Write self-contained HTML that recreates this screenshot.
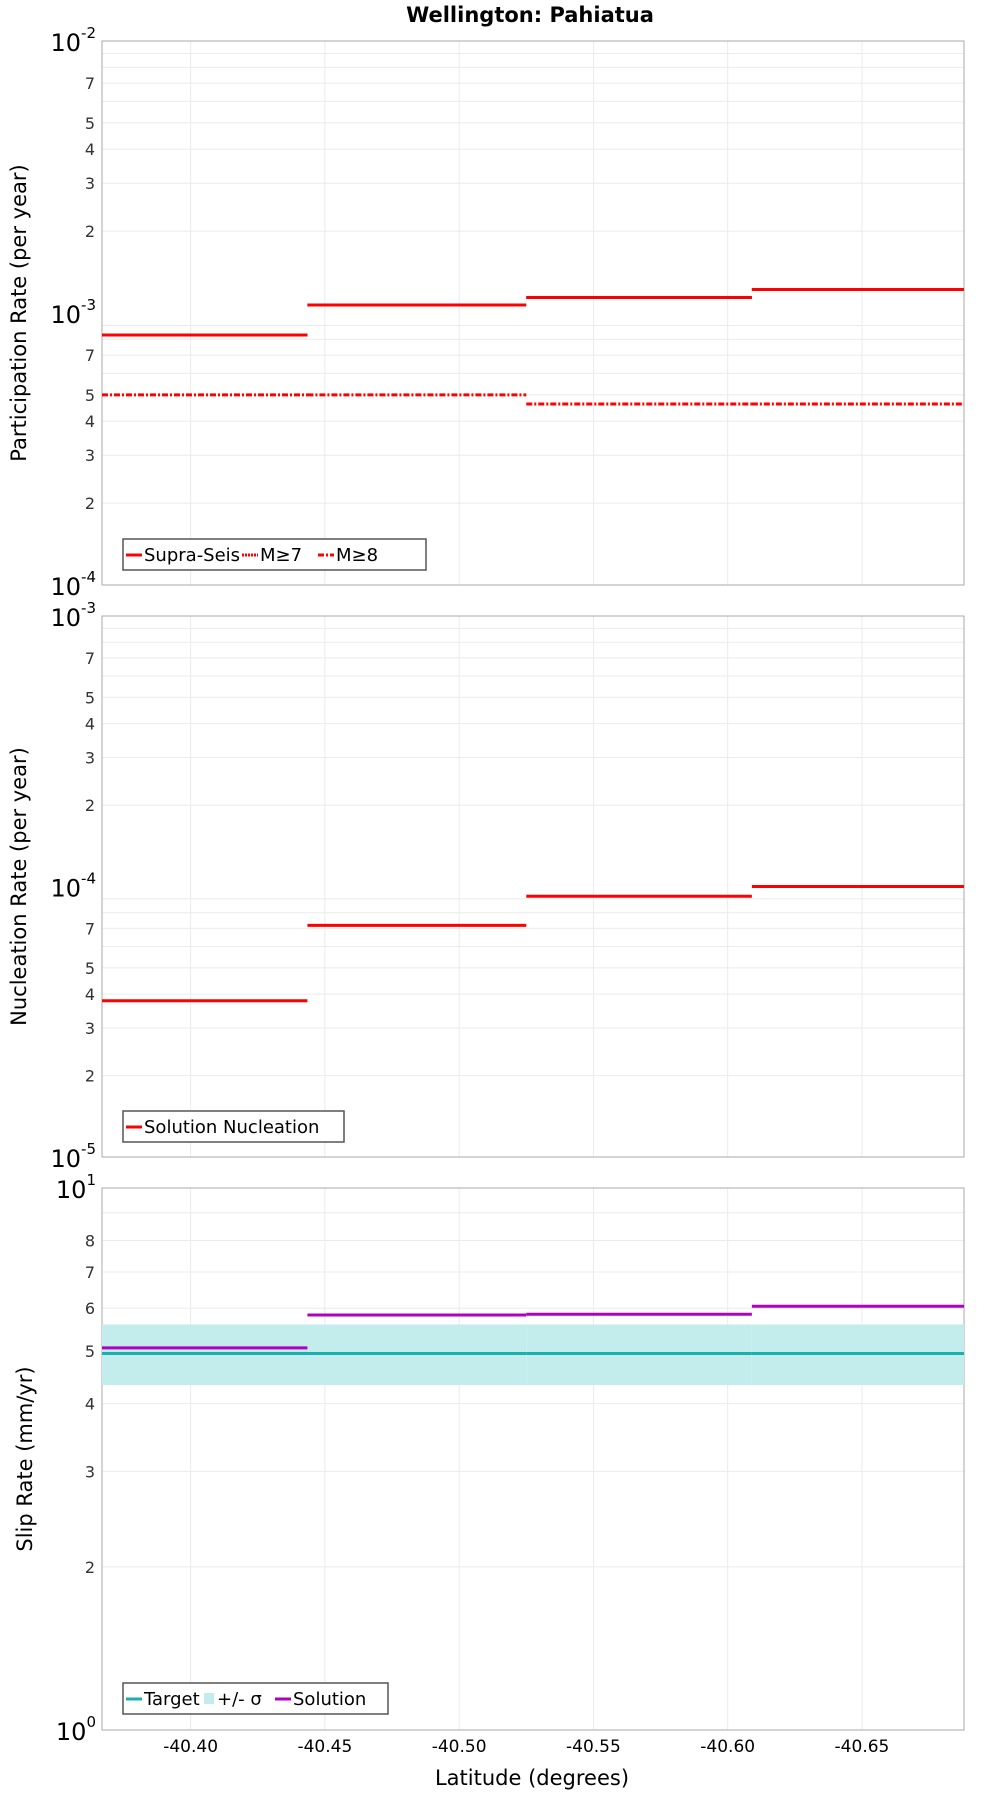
<!DOCTYPE html>
<html><head><meta charset="utf-8"><style>
body{margin:0;background:#fff;}
svg{display:block;font-family:"DejaVu Sans","Liberation Sans",sans-serif;}
</style></head><body>
<svg id="c" width="1000" height="1800" viewBox="0 0 1000 1800" xmlns="http://www.w3.org/2000/svg">
<text x="530" y="22" text-anchor="middle" font-size="21" font-weight="bold">Wellington: Pahiatua</text>
</svg>
<script>
const binEdges=[-40.367,-40.4435,-40.525,-40.609,-40.688];
const xTicks=[-40.40,-40.45,-40.50,-40.55,-40.60,-40.65];
const supraSeis=[8.3e-4,1.07e-3,1.14e-3,1.22e-3];
const m7=[8.3e-4,1.07e-3,1.14e-3,1.22e-3];
const m8=[5.0e-4,5.0e-4,4.63e-4,4.63e-4];
const nucleation=[3.78e-5,7.18e-5,9.2e-5,1.0e-4];
const targetSlip=[4.95,4.95,4.95,4.95];
const sigmaLow=[4.33,4.33,4.33,4.33];
const sigmaHigh=[5.6,5.6,5.6,5.6];
const solutionSlip=[5.07,5.83,5.85,6.05];

const NS='http://www.w3.org/2000/svg';
const svg=document.getElementById('c');
const L=102,R=964;
const xs=v=>L+(v-binEdges[0])/(binEdges[4]-binEdges[0])*(R-L);
function el(t,a,p){const e=document.createElementNS(NS,t);for(const k in a)e.setAttribute(k,a[k]);(p||svg).appendChild(e);return e;}
const panels=[
 {top:41,bot:585,lo:-4,hi:-2,minors:[2,3,4,5,7],title:'Participation Rate (per year)',tx:20,name:'participation'},
 {top:616,bot:1157,lo:-5,hi:-3,minors:[2,3,4,5,7],title:'Nucleation Rate (per year)',tx:20,name:'nucleation'},
 {top:1188,bot:1730,lo:0,hi:1,minors:[2,3,4,5,6,7,8],title:'Slip Rate (mm/yr)',tx:26,name:'slip'}
];
panels.forEach(p=>{
 const g=el('g',{});
 
 
 p.y=v=>p.bot-(Math.log10(v)-p.lo)/(p.hi-p.lo)*(p.bot-p.top);
 for(let d=p.lo;d<p.hi;d++)for(let m=2;m<=9;m++){
  const y=p.y(m*Math.pow(10,d));
  const gl=el('line',{x1:L,x2:R,y1:y,y2:y,stroke:'#ebebeb','stroke-width':1},g);
  
  
 }
 xTicks.forEach(t=>{const gl=el('line',{x1:xs(t),x2:xs(t),y1:p.top,y2:p.bot,stroke:'#ebebeb'},g);
  
  });
 const fr=el('rect',{x:L,y:p.top,width:R-L,height:p.bot-p.top,fill:'none',stroke:'#aaa'},g);
 
 
 for(let d=p.lo;d<=p.hi;d++){
  const y=p.y(Math.pow(10,d));
  const t=el('text',{x:96,y:y+10,'text-anchor':'end','font-size':24},g);
  
  
  t.textContent='10';
  const s=el('tspan',{dy:-13,'font-size':15},t);s.textContent=String(d);
 }
 for(let d=p.lo;d<p.hi;d++)p.minors.forEach(m=>{
  const t=el('text',{x:95,y:p.y(m*Math.pow(10,d))+6,'text-anchor':'end','font-size':16,fill:'#333'},g);
  
  
  t.textContent=m;
 });
 const cy=(p.top+p.bot)/2;
 const at=el('text',{x:p.tx,y:cy,transform:`rotate(-90 ${p.tx} ${cy})`,'text-anchor':'middle','dominant-baseline':'middle','font-size':21},g);
 
 
 at.textContent=p.title;
});
function steps(p,vals,stroke,dash,name,w){
 vals.forEach((v,i)=>{
  const a={x1:xs(binEdges[i]),x2:xs(binEdges[i+1]),y1:p.y(v),y2:p.y(v),stroke:stroke,'stroke-width':w||3};
  if(dash)a['stroke-dasharray']=dash;
  const l=el('line',a);
  
  
 });
}
const P=panels;
steps(P[0],supraSeis,'#f00',null,'supra-seis-step');
steps(P[0],m7,'#f00','2 1','m7-step');
steps(P[0],m8,'#f00','6 2 2 2','m8-step');
steps(P[1],nucleation,'#f00',null,'nucleation-step');
sigmaLow.forEach((v,i)=>{
 const r=el('rect',{x:xs(binEdges[i]),width:xs(binEdges[i+1])-xs(binEdges[i]),y:P[2].y(sigmaHigh[i]),height:P[2].y(v)-P[2].y(sigmaHigh[i]),fill:'#c3ecec'});
 
 
});
steps(P[2],targetSlip,'#19b0b0',null,'target-step');
steps(P[2],solutionSlip,'#b000c0',null,'solution-step');
xTicks.forEach(t=>{
 const tx=el('text',{x:xs(t),y:1752,'text-anchor':'middle','font-size':17});
 
 
 tx.textContent=t.toFixed(2);
});
const xt=el('text',{x:532,y:1785,'text-anchor':'middle','font-size':21});


xt.textContent='Latitude (degrees)';
function legend(x,y,w,items,name){
 const g=el('g',{});
 
 
 el('rect',{x:x,y:y,width:w,height:31,fill:'#fff',stroke:'#555','stroke-width':1.5},g);
 let cx=x+3;
 items.forEach(it=>{
  if(it.box){el('rect',{x:cx,y:y+10,width:10,height:11,fill:it.c},g);cx+=13;}
  else{const a={x1:cx,x2:cx+16,y1:y+16,y2:y+16,stroke:it.c,'stroke-width':3};if(it.d)a['stroke-dasharray']=it.d;el('line',a,g);cx+=18;}
  const t=el('text',{x:cx,y:y+22,'font-size':18},g);
  
  
  t.textContent=it.t;
  cx+=it.w;
 });
}
legend(123,539,303,[{c:'#f00',t:'Supra-Seis',w:98},{c:'#f00',d:'2 1',t:'M≥7',w:58},{c:'#f00',d:'6 2 2 2',t:'M≥8',w:50}],'participation-legend');
legend(123,1111,221,[{c:'#f00',t:'Solution Nucleation',w:190}],'nucleation-legend');
legend(123,1683,265,[{c:'#19b0b0',t:'Target',w:60},{c:'#c3ecec',box:1,t:'+/- σ',w:58},{c:'#b000c0',t:'Solution',w:90}],'slip-legend');
</script>
</body></html>
